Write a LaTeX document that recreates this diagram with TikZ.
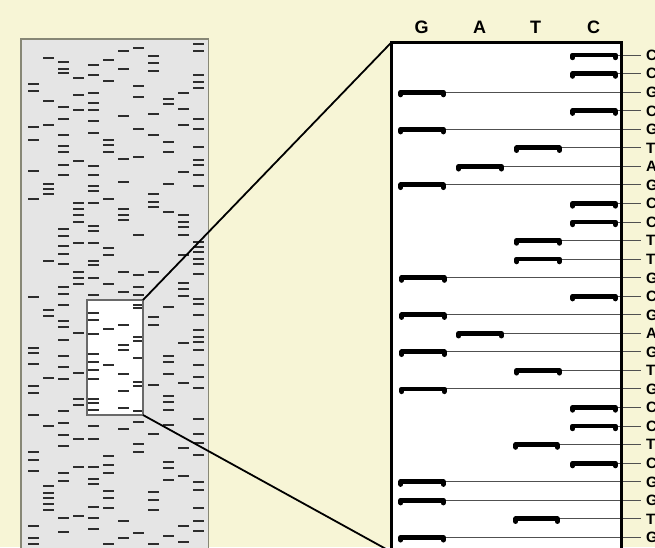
\documentclass[tikz,border=0pt]{standalone}
\usepackage{fontspec}
\setmainfont{Liberation Sans}
\definecolor{bgyellow}{RGB}{247,245,214}
\definecolor{gelfill}{RGB}{229,229,229}
\definecolor{geledge}{RGB}{135,135,118}
\definecolor{insetedge}{RGB}{105,105,105}
\definecolor{gelband}{RGB}{45,45,45}
\definecolor{connline}{RGB}{80,80,80}
\begin{document}
\begin{tikzpicture}[x=1pt,y=-1pt,
  gelband/.style={fill=gelband},
  bigband/.style={line width=4.8pt,line join=round,line cap=round,black},
  conn/.style={draw=connline,line width=0.9pt},
  zoomline/.style={draw=black,line width=1.8pt},
  header/.style={font=\bfseries\fontsize{18}{18}\selectfont,anchor=base,inner sep=0pt},
  lab/.style={font=\bfseries\fontsize{15}{15}\selectfont,anchor=base west,inner xsep=5pt,inner ysep=0pt}]
\useasboundingbox (0,0) rectangle (655,547);
\fill[bgyellow] (0,0) rectangle (655,547);
% gel
\draw[geledge,line width=1.5pt,fill=gelfill] (21,39) rectangle (208.5,560);
% inset fill
\fill[white] (87,300) rectangle (143,415);
% gel bands
\foreach \lx/\ys in {
 33/{83.7,90.7,127.3,140,171,199.3,297,348,353,363.7,386.3,393,414.7,452.3,460,470.7,526.3,538.3,544},
 48/{58.3,101.3,124.7,184,189,194.3,261,310.3,316,378,426.3,485.7,493,498.3,504,510},
 63/{61.7,68.7,73.3,107.3,118.7,135,145.7,152.3,164.7,175,229,236,246,254.3,264,286.7,293.7,304.7,321.3,327,339.7,356,367,379.3,411.3,423,435,445.7,473.3,480.7,518.3,531.7},
 78/{77.7,94.7,110,161.3,203.3,209.3,215,222.3,243.3,271.7,278.3,284,332.7,372.7,398.7,405.3,439,466.7,516.3},
 93/{64.7,75.3,93,103.3,110,121.3,133.3,166.3,175,185.7,191,203.3,226,230.7,243.3,260.7,265,278.3,295.3,313,320.3,333.7,353.7,362,370.3,379.3,399.3,403,410.3,425.7,439,466.7,479,484,507.3,518,529},
 108/{60.3,81,139.7,145.3,152,199.3,248.3,255,284,328.7,365.3,456.3,465,473.3,490.7,498.3,508.3,544},
 123/{51.3,68.7,115.7,159,181.7,209.3,215,220,271.7,292,324.7,345.3,349.7,373.7,391,408,429,520.7,538.3},
 138/{47.7,86.3,96.7,129,157.3,235,275,287.3,295.3,304.7,308,337,341.3,358,382,386.3,411.3,422.3,444,451.7,533},
 153/{55.7,63,70.7,114,135,194.3,201.7,206.7,271.7,317,324.7,385.3,434,491.7,500,510,544},
 168/{98.7,103.7,142,152.3,184,211.7,307,356,362,373.7,396.3,402,410.3,425,461.7,468.3,479.7,536.3},
 183/{93,108.7,124.7,172.3,215,221.7,227.3,235,255,283.3,289,296,343,382.7,448.3,476.3,526.3,542.3},
 198/{43.7,51.3,75.3,82,88,119,129.3,147,159.7,164.7,175,185.7,241.7,246.7,252.3,259,264,274.3,298.7,303.7,315.3,330.3,337,342,349.7,364.7,377,388,418.7,434,443.3,455,482.3,489.7,508.3,520.7,530.7}}
{
  \foreach \yy in \ys {
    \fill[gelband] (\lx-5.5,\yy-1.1) rectangle (\lx+5.5,\yy+1.1);
  }
}
% inset border
\draw[insetedge,line width=1.8pt] (87,300) rectangle (143,415);
\coordinate (insetNE) at (143,300);
\coordinate (insetSE) at (143,415);
% big box
\coordinate (bigNW) at (391.5,42.3);
\coordinate (bigSW) at (391.5,552);
\fill[white] (391.5,42.3) rectangle (621.5,560);
% headers
\node[header] (hG) at (421.5,33.5) {G};
\node[header] (hA) at (479.5,33.5) {A};
\node[header] (hT) at (535.5,33.5) {T};
\node[header] (hC) at (593.5,33.5) {C};
% rows
\foreach \letter/\xa/\xb [count=\i from 0] in {
 C/571/617, C/571/617, G/399/445, C/571/617, G/399/445, T/515/561, A/457/503,
 G/399/445, C/571/617, C/571/617, T/515/561, T/515/561, G/400/446, C/571/617,
 G/400/446, A/457/503, G/400/446, T/515/561, G/400/446, C/571/617, C/571/617,
 T/514/559, C/571/617, G/399/445, G/399/445, T/514/559, G/399/445}
{
  \pgfmathsetmacro{\ry}{55+18.55*\i}
  \coordinate (bL\i) at (\xa,\ry);
  \coordinate (bR\i) at (\xb,\ry);
  \node[lab] (lab\i) at (641,\ry+5.4) {\letter};
  \draw[conn] (bR\i) -- (bR\i -| lab\i.west);
}
\draw[black,line width=3pt] (391.5,560) -- (391.5,42.3) -- (621.5,42.3) -- (621.5,560);
\foreach \i in {0,...,26} {
  \draw[bigband] ([xshift=1.8pt,yshift=-2.8pt]bL\i) -- ([xshift=1.8pt]bL\i) -- ([xshift=-1.8pt]bR\i) -- ([xshift=-1.8pt,yshift=-2.8pt]bR\i);
}
% zoom lines
\draw[zoomline] (insetNE) -- (bigNW);
\draw[zoomline] (insetSE) -- (bigSW);
\end{tikzpicture}
\end{document}
